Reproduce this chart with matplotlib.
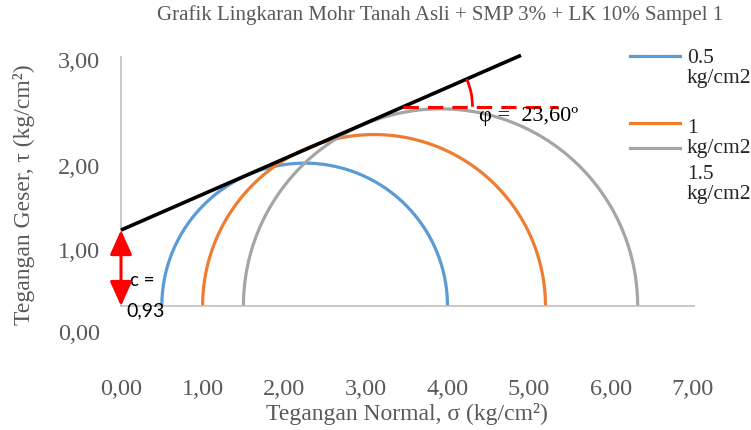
import numpy as np
import matplotlib
matplotlib.use("Agg")
import matplotlib.pyplot as plt
from matplotlib.lines import Line2D
from matplotlib.patches import Arc, FancyArrowPatch

# Mohr circle data (kg/cm2)
series_labels = ["0.5\nkg/cm2", "1\nkg/cm2", "1.5\nkg/cm2"]
sigma3 = [0.5, 1.0, 1.5]
sigma1 = [4.0, 5.2, 6.33]
colors = ["#5B9BD5", "#ED7D31", "#A5A5A5"]

# Failure envelope parameters
cohesion = 0.93
phi_deg = 23.60
envelope_x_end = 4.9

x_ticks = [0, 1, 2, 3, 4, 5, 6, 7]
x_tick_labels = ["0,00", "1,00", "2,00", "3,00", "4,00", "5,00", "6,00", "7,00"]
y_tick_labels = ["0,00", "1,00", "2,00", "3,00"]
y_label_pos = [-0.34, 0.67, 1.70, 3.0]

serif = "Liberation Serif"
gray_txt = "#595959"

W, H = 751, 431
fig = plt.figure(figsize=(W / 100, H / 100), dpi=100)
ax = fig.add_axes([121 / W, (H - 307) / H, (694 - 121) / W, (307 - 58) / H])
ax.set_xlim(0, 7.02)
ax.set_ylim(0, 3.05)
for s in ["top", "right"]:
    ax.spines[s].set_visible(False)
for s in ["left", "bottom"]:
    ax.spines[s].set_color("#BFBFBF")
    ax.spines[s].set_linewidth(1.2)

# Mohr circles
for s3, s1, col in zip(sigma3, sigma1, colors):
    c = (s1 + s3) / 2
    r = (s1 - s3) / 2
    t = np.linspace(np.pi, 0, 200)
    ax.plot(c + r * np.cos(t), r * np.sin(t), color=col, lw=2.3,
            solid_capstyle="butt", zorder=2)

# Failure envelope
tan_phi = np.tan(np.radians(phi_deg))
ex = np.array([0, envelope_x_end])
ax.plot(ex, cohesion + tan_phi * ex, color="black", lw=2.6, zorder=4,
        clip_on=False, solid_capstyle="butt")

# Friction angle marker
y_h = 2.44
x_h = (y_h - cohesion) / tan_phi
ax.plot([x_h, 5.35], [y_h, y_h], color="red", lw=2.2, ls=(0, (5, 3)), zorder=5)
ax.add_patch(Arc((x_h, y_h), 1.7, 1.7, theta1=0, theta2=phi_deg,
                 color="red", lw=2, zorder=5))
ax.text(4.38, 2.33, "φ =  23,60º", fontsize=16, family=serif, color="black",
        va="center", ha="left", zorder=6)

# Cohesion marker
arr = FancyArrowPatch((0, 0), (0, cohesion), arrowstyle="<|-|>,head_length=1.0,head_width=0.45",
                      mutation_scale=15, color="red", lw=2.2, zorder=6,
                      shrinkA=0, shrinkB=0, clip_on=False)
ax.add_patch(arr)
ax.text(0.11, 0.33, "c =", fontsize=13.5, family="Lato", color="black", va="center")
ax.text(0.07, -0.05, "0,93", fontsize=14, family="Lato", color="black", va="center")

# Axis ticks and labels
ax.set_xticks(x_ticks)
ax.set_xticklabels(x_tick_labels, fontsize=17.5, family=serif, color=gray_txt)
ax.tick_params(axis="x", length=0, pad=52)
ax.set_yticks([])
for lab, yp in zip(y_tick_labels, y_label_pos):
    ax.text(-0.26, yp, lab, fontsize=17.5, family=serif, color=gray_txt,
            ha="right", va="center", clip_on=False)

fig.text(407 / W, 1 - 414 / H, "Tegangan Normal, σ (kg/cm²)", fontsize=17,
         family=serif, color=gray_txt, ha="center", va="center")
fig.text(24 / W, 1 - 195 / H, "Tegangan Geser, τ (kg/cm²)", fontsize=17,
         family=serif, color=gray_txt, ha="center", va="center", rotation=90)
fig.text(440 / W, 1 - 15 / H, "Grafik Lingkaran Mohr Tanah Asli + SMP 3% + LK 10% Sampel 1",
         fontsize=15, family=serif, color=gray_txt, ha="center", va="center")

# Legend
leg_line_y = [57, 124, 149]
leg_text_y = [60, 130, 176]
for lab, col, ly, ty in zip(series_labels, colors, leg_line_y, leg_text_y):
    fig.add_artist(Line2D([630 / W, 680 / W], [1 - ly / H, 1 - ly / H],
                          color=col, lw=2.3, transform=fig.transFigure))
    fig.text(687 / W, 1 - (ty - 11) / H, lab, fontsize=15.5, family=serif,
             color="#262626", ha="left", va="top", linespacing=1.1)

fig.savefig("out.png", dpi=100)
